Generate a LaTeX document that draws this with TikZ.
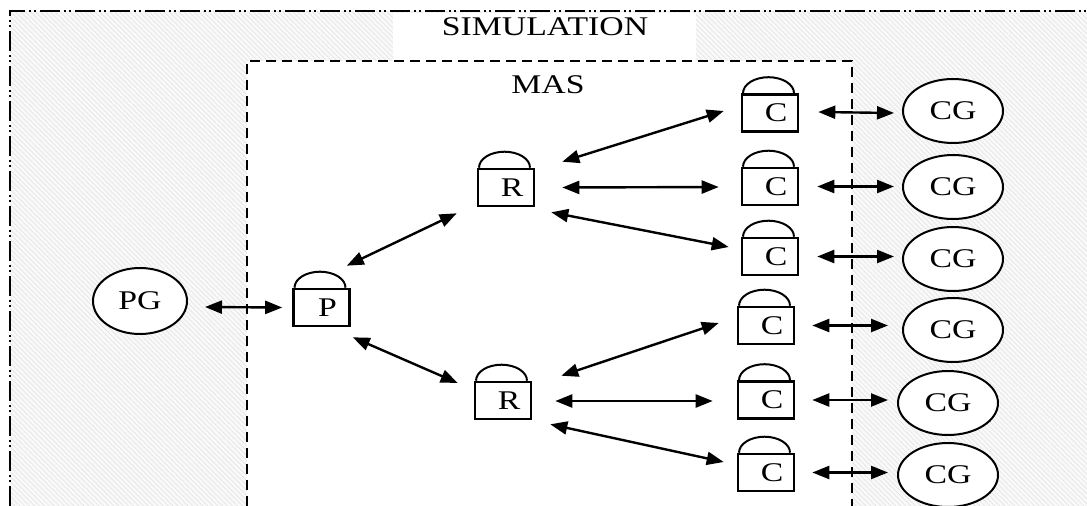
\documentclass[tikz,border=0pt]{standalone}
\usepackage{fontspec}
\setmainfont{Liberation Serif}[FakeStretch=1.25]
\usetikzlibrary{shapes.geometric,arrows.meta,patterns.meta}
\tikzset{
  txt/.style={font=\fontsize{27pt}{32pt}\selectfont, inner sep=0pt},
  agent/.style={txt, draw, line width=2.6pt, minimum width=56pt, minimum height=37pt, fill=white},
  gen/.style={txt, ellipse, draw, line width=2pt, minimum width=100pt, minimum height=64pt, fill=white},
  dome/.style={line width=2pt},
  bi/.style={{Triangle[length=17pt,width=13pt]}-{Triangle[length=17pt,width=13pt]}, line width=2.4pt},
  outerline/.style={line width=2.8pt, dash pattern=on 20pt off 4pt on 2pt off 3pt on 2pt off 4pt},
  masline/.style={line width=2.8pt, dash pattern=on 10pt off 6pt},
}
\begin{document}
\begin{tikzpicture}[x=1pt,y=-1pt]
\useasboundingbox (0,0) rectangle (1087,506);
% hatched simulation area
\fill[gray!5] (10,11) rectangle (1087,506);
\fill[pattern={Lines[angle=-45,distance=3.5pt,line width=0.7pt]}, pattern color=gray!20] (10,11) rectangle (1087,506);
\fill[white] (393,12.5) rectangle (696,61);
\fill[white] (247,61) rectangle (852,506);
\draw[masline] (247,506) -- (247,61) -- (852,61) -- (852,506);
\draw[outerline] (10,506) -- (10,11) -- (1087,11);
\node[txt] (sim) at (545,27) {SIMULATION};
\node[txt] (mas) at (548,85) {MAS};
% agents
\node[agent] (P)  at (321.5,307.5) {\hspace*{12pt}P};
\node[agent] (R1) at (506,187.5) {\hspace*{12pt}R};
\node[agent] (R2) at (503,400.5) {\hspace*{12pt}R};
\node[agent] (C1) at (770,113) {\hspace*{12pt}C};
\node[agent] (C2) at (770,186.5) {\hspace*{12pt}C};
\node[agent] (C3) at (770,256.5) {\hspace*{12pt}C};
\node[agent] (C4) at (766,325.5) {\hspace*{12pt}C};
\node[agent] (C5) at (766,400) {\hspace*{12pt}C};
\node[agent] (C6) at (766,472.5) {\hspace*{12pt}C};
\foreach \n in {P,R1,R2,C1,C2,C3,C4,C5,C6}
  \draw[dome] ([xshift=-27pt]\n.north) arc[start angle=180,end angle=0,x radius=25.5pt,y radius=16pt];
% generators
\node[gen, minimum width=94pt, minimum height=66pt] (PG) at (140,301) {PG};
\node[gen] (CG1) at (953,111) {CG};
\node[gen] (CG2) at (953,187) {CG};
\node[gen] (CG3) at (953,259) {CG};
\node[gen] (CG4) at (953,330) {CG};
\node[gen] (CG5) at (948,403) {CG};
\node[gen] (CG6) at (948,475) {CG};
% connectors
\draw[bi] ([shift={(17,6)}]PG.east) -- ([shift={(-10,0)}]P.west);
\draw[bi] ([shift={(-4,-22)}]P.north east) -- ([shift={(-20,6)}]R1.south west);
\draw[bi] ([shift={(2,10)}]P.south east) -- ([shift={(-16,-17.5)}]R2.west);
\draw[bi] ([shift={(27,-6)}]R1.north east) -- ([shift={(-17,-2)}]C1.west);
\draw[bi] ([shift={(27,0)}]R1.east) -- ([shift={(-22,0.5)}]C2.west);
\draw[bi] ([shift={(16,5)}]R1.south east) -- ([shift={(-12,-9.5)}]C3.west);
\draw[bi] ([shift={(29,-5)}]R2.north east) -- ([shift={(-18,-2.5)}]C4.west);
\draw[bi] ([shift={(23,0.5)}]R2.east) -- ([shift={(-24,1)}]C5.west);
\draw[bi] ([shift={(18,4)}]R2.south east) -- ([shift={(-13,-10.5)}]C6.west);
\draw[bi] ([shift={(19,-1)}]C1.east) -- ([shift={(-8,0)}]CG1.west |- C1.east);
\draw[bi] ([shift={(18,0)}]C2.east) -- ([shift={(-8,0)}]CG2.west |- C2.east);
\draw[bi] ([shift={(18,0)}]C3.east) -- ([shift={(-8,0)}]CG3.west |- C3.east);
\draw[bi] ([shift={(17,0)}]C4.east) -- ([shift={(-14,0)}]CG4.west |- C4.east);
\draw[bi] ([shift={(17,0)}]C5.east) -- ([shift={(-9,0)}]CG5.west |- C5.east);
\draw[bi] ([shift={(17,0)}]C6.east) -- ([shift={(-9,0)}]CG6.west |- C6.east);
\end{tikzpicture}
\end{document}
